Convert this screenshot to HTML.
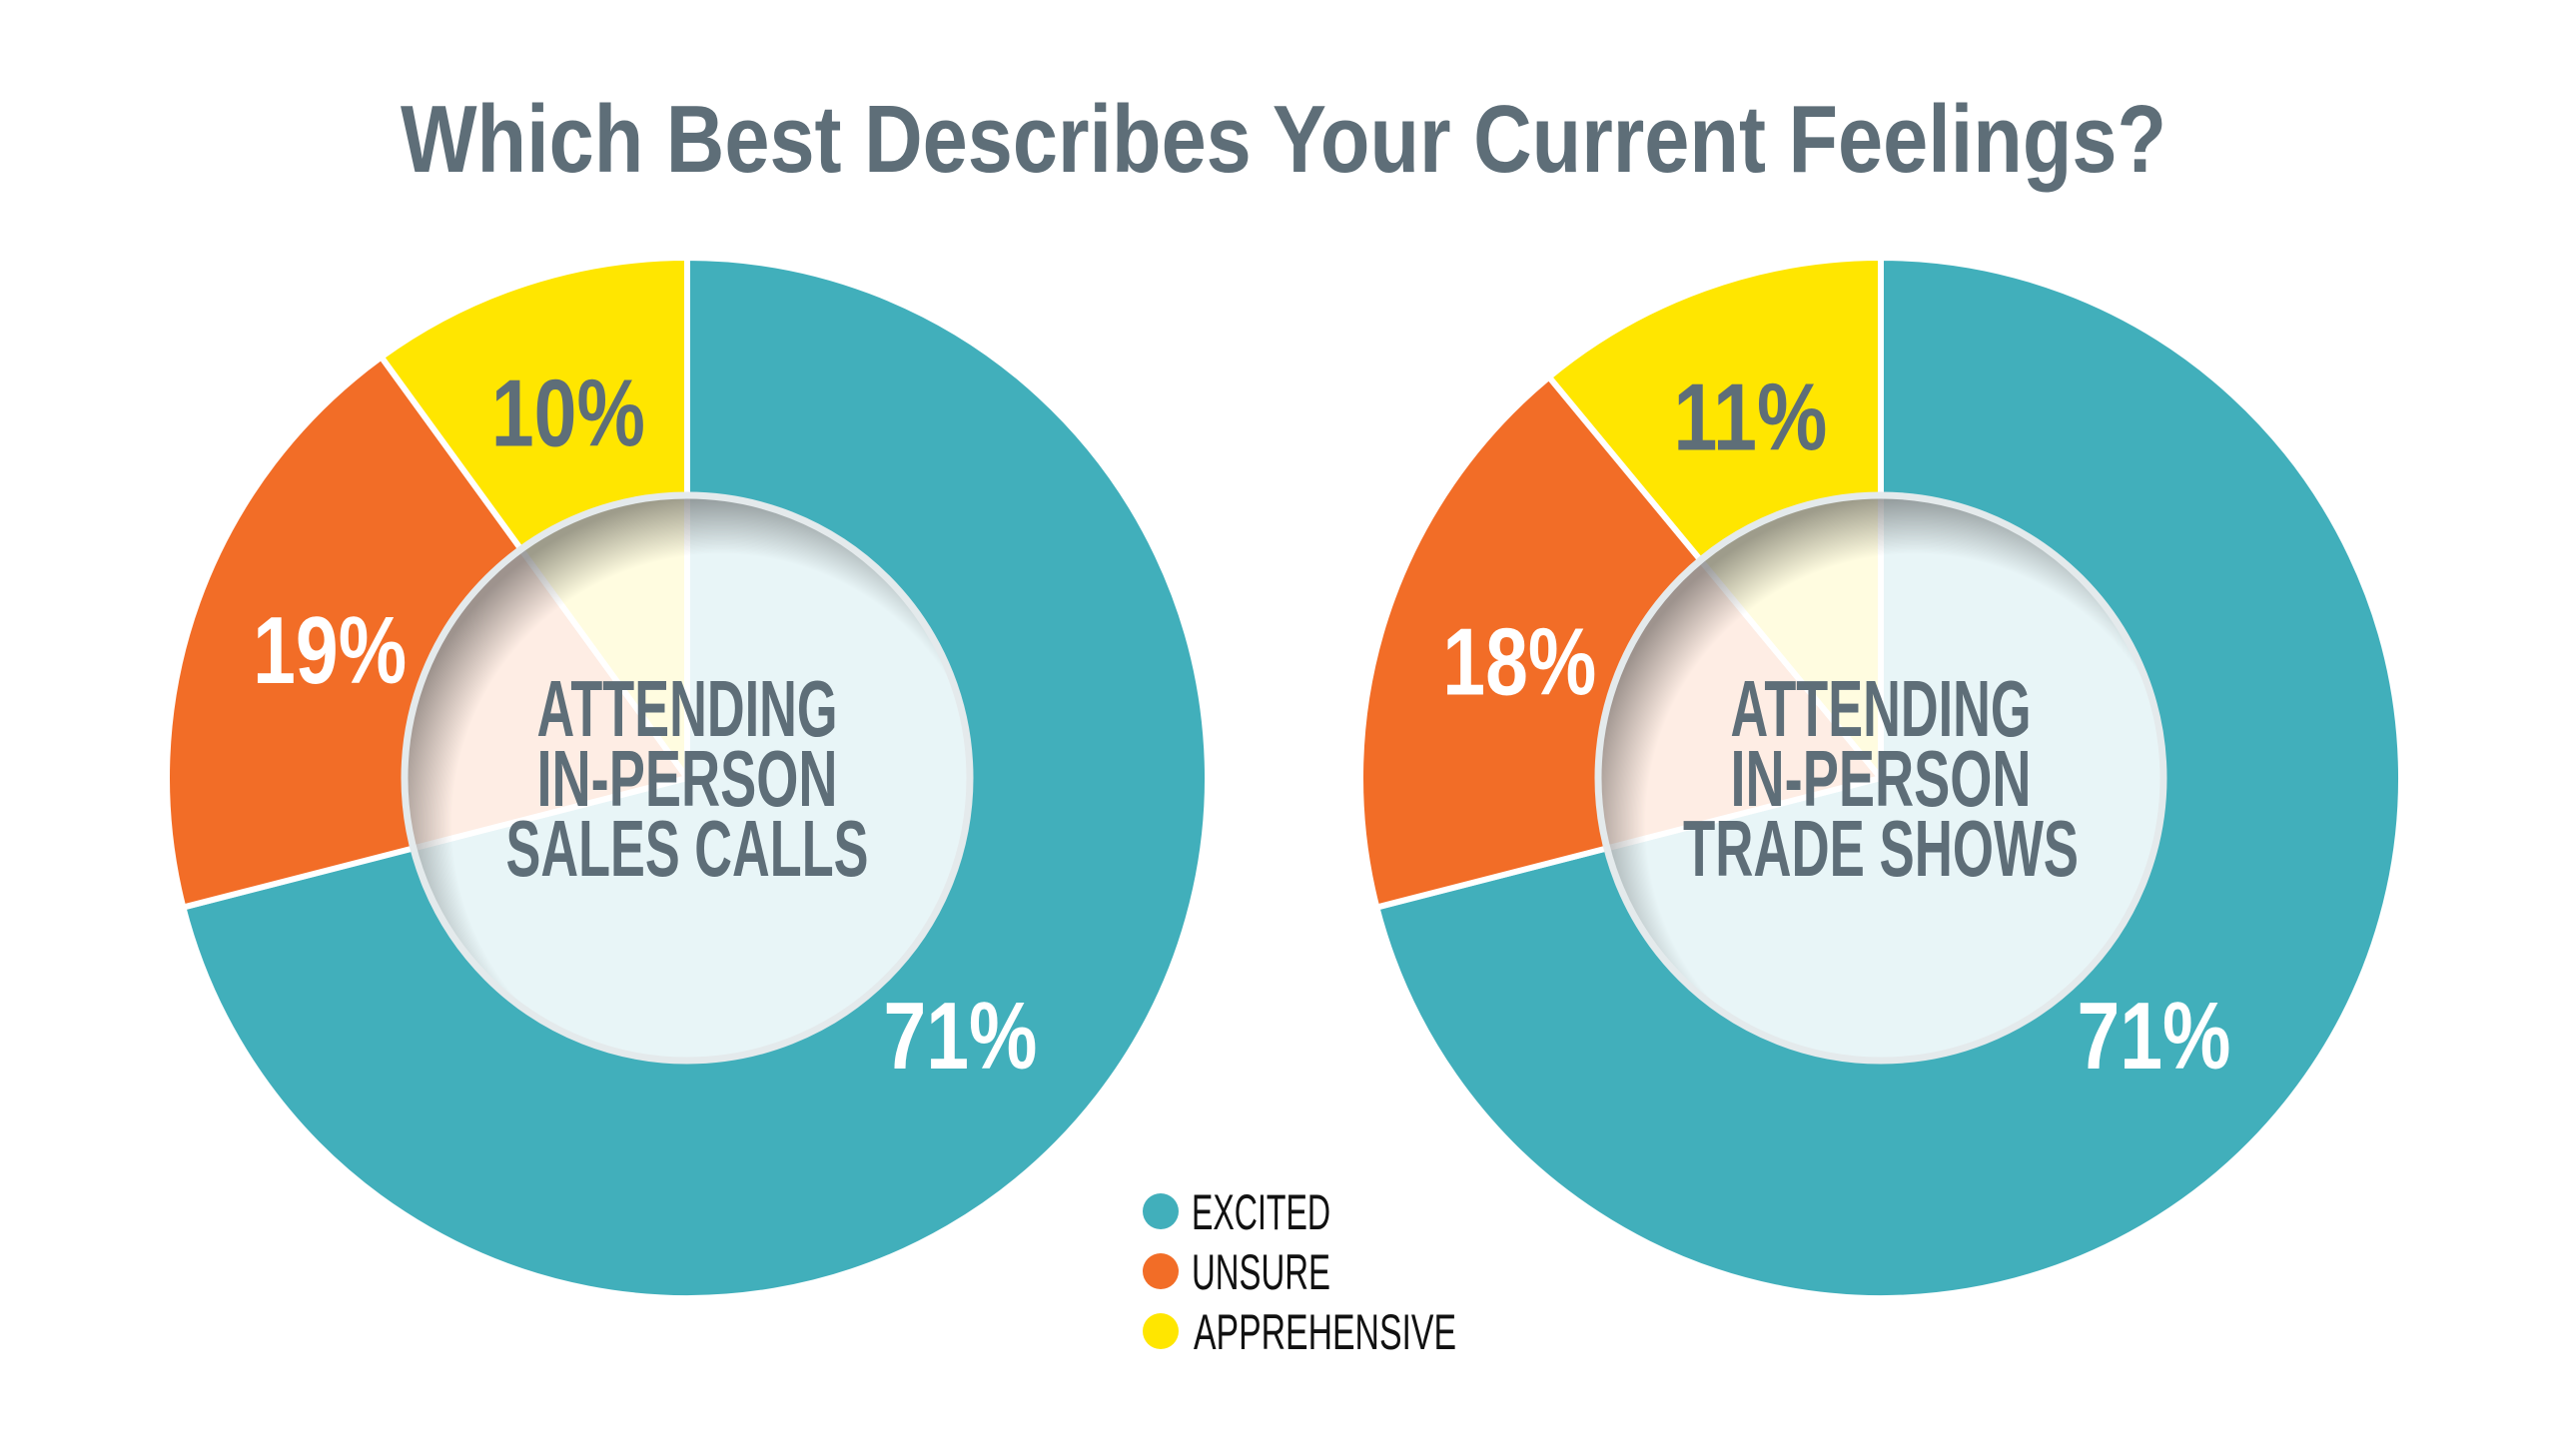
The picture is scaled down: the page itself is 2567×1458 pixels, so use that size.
<!DOCTYPE html>
<html><head><meta charset="utf-8"><style>
html,body{margin:0;padding:0;background:#fff;}
svg{display:block;}
text{font-family:"Liberation Sans Narrow","Liberation Sans",sans-serif;}
</style></head><body>
<svg id="chart" width="2567" height="1458" viewBox="0 0 2567 1458" xmlns="http://www.w3.org/2000/svg">
<defs>
<radialGradient id="shade" cx="0.56" cy="0.58" r="0.58">
<stop offset="0.82" stop-color="#000" stop-opacity="0"/>
<stop offset="1" stop-color="#000" stop-opacity="0.38"/>
</radialGradient>
</defs>
<text x="1285" y="172" text-anchor="middle" font-size="96" font-weight="bold" fill="#5e6e78" textLength="1768" lengthAdjust="spacingAndGlyphs">Which Best Describes Your Current Feelings?</text>
<g id="pies"></g>
<g>
<circle cx="1162" cy="1213" r="18" fill="#41afbb"/>
<text x="1193" y="1231" font-size="50" fill="#111" textLength="139" lengthAdjust="spacingAndGlyphs">EXCITED</text>
<circle cx="1162" cy="1273" r="18" fill="#f26d27"/>
<text x="1193" y="1291" font-size="50" fill="#111" textLength="139" lengthAdjust="spacingAndGlyphs">UNSURE</text>
<circle cx="1162" cy="1333" r="18" fill="#ffe600"/>
<text x="1195" y="1351" font-size="50" fill="#111" textLength="263" lengthAdjust="spacingAndGlyphs">APPREHENSIVE</text>
</g>
</svg>
<script>
const categories = ["Excited", "Unsure", "Apprehensive"];
const salesCalls = [71, 19, 10];
const tradeShows = [71, 18, 11];
const chartTitles = [["ATTENDING","IN-PERSON","SALES CALLS"],["ATTENDING","IN-PERSON","TRADE SHOWS"]];
const colors = ["#41afbb", "#f26d27", "#ffe600"];
const NS = "http://www.w3.org/2000/svg";
const g = document.getElementById("pies");
const R = 521, r = 283;
const pies = [
  {cx: 688, cy: 779, vals: salesCalls, lines: chartTitles[0], name: "sales-calls", w: [301,301,363]},
  {cx: 1883, cy: 779, vals: tradeShows, lines: chartTitles[1], name: "trade-shows", w: [301,301,396]}
];
// label placement: polar position (radius fraction) for each slice label
function mk(tag, attrs) { const e = document.createElementNS(NS, tag); for (const k in attrs) e.setAttribute(k, attrs[k]); return e; }
function pt(cx, cy, rad, frac) { const a = frac * 2 * Math.PI; return [cx + rad * Math.sin(a), cy - rad * Math.cos(a)]; }
pies.forEach(p => {
  const total = p.vals.reduce((a, b) => a + b, 0);
  const grp = mk("g", {});
  
  
  g.appendChild(grp);
  // slices: excited clockwise from top, others counterclockwise order
  let start = 0;
  const spans = [];
  // excited from 0 to v0, then apprehensive, unsure going further clockwise: order excited, unsure, apprehensive clockwise
  p.vals.forEach((v, i) => {
    const s = start, e = start + v / total;
    spans.push([s, e]);
    start = e;
  });
  spans.forEach((sp, i) => {
    const [x1, y1] = pt(p.cx, p.cy, R, sp[0]);
    const [x2, y2] = pt(p.cx, p.cy, R, sp[1]);
    const large = (sp[1] - sp[0]) > 0.5 ? 1 : 0;
    const path = mk("path", {d: `M${p.cx},${p.cy} L${x1},${y1} A${R},${R} 0 ${large} 1 ${x2},${y2} Z`, fill: colors[i], stroke: "#fff", "stroke-width": 6, "stroke-linejoin": "round"});
    
    
    grp.appendChild(path);
  });
  // center overlay
  const ov = mk("circle", {cx: p.cx, cy: p.cy, r: r, fill: "#fff", "fill-opacity": 0.88});
  
  
  grp.appendChild(ov);
  const sh = mk("circle", {cx: p.cx, cy: p.cy, r: r, fill: "url(#shade)"});
  
  
  grp.appendChild(sh);
  const ring = mk("circle", {cx: p.cx, cy: p.cy, r: r, fill: "none", stroke: "#e4eaec", "stroke-width": 7});
  
  
  grp.appendChild(ring);
  // center text
  const ys = [p.cy - 70, p.cy, p.cy + 70];
  p.lines.forEach((ln, k) => {
    const t = mk("text", {x: p.cx, y: ys[k] + 28, "text-anchor": "middle", "font-size": 80, "font-weight": "bold", fill: "#5e6e78", textLength: p.w[k], lengthAdjust: "spacingAndGlyphs"});
    t.textContent = ln;
    
    
    grp.appendChild(t);
  });
  // value labels
  const radFrac = [0.72, 0.73, 0.74];
  spans.forEach((sp, i) => {
    let mid = (sp[0] + sp[1]) / 2;
    if (i === 0) mid = sp[0] + 0.37;
    const [lx, ly] = pt(p.cx, p.cy, R * radFrac[i], mid);
    const t = mk("text", {x: lx, y: ly + 34, "text-anchor": "middle", "font-size": 96, "font-weight": "bold", fill: i === 2 ? "#5e6e78" : "#fff", textLength: 154, lengthAdjust: "spacingAndGlyphs"});
    t.textContent = p.vals[i] + "%";
    
    
    grp.appendChild(t);
  });
});
</script>
</body></html>
